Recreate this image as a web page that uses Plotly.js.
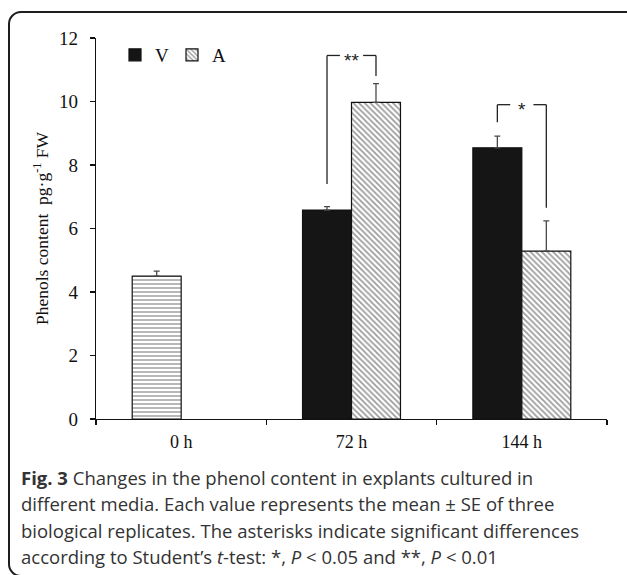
<!DOCTYPE html>
<html>
<head>
<meta charset="utf-8">
<script src="https://cdn.plot.ly/plotly-3.0.1.min.js"></script>
<style>
  html, body { margin: 0; padding: 0; background: #fff; overflow: hidden; }
  #wrap { position: relative; width: 627px; height: 575px; overflow: hidden; }
  #frame { position: absolute; left: 8px; top: 11px; width: 640px; height: 566px;
           border: 2px solid #1e1e1e; border-radius: 13px; box-sizing: border-box; }
  #chart { position: absolute; left: 0; top: 0; width: 627px; height: 575px; }
</style>
</head>
<body>
<div id="wrap">
  <div id="frame"></div>
  <div id="chart"></div>
</div>
<script>
// ---- data ----
const categories = ["0 h", "72 h", "144 h"];
const baseline = [4.5, null, null];        // 0 h value (shown in V slot)
const baselineSE = [0.16, 0, 0];
const seriesV = [null, 6.58, 8.54];
const seriesVSE = [0, 0.11, 0.37];
const seriesA = [null, 9.97, 5.29];
const seriesASE = [0, 0.59, 0.95];
const yTicks = [0, 2, 4, 6, 8, 10, 12];

// significance brackets
const sigCat = [1, 2];
const sigLabel = ["**", "*"];
const sigTop = [11.45, 9.9];
const sigLeftBottom = [7.4, 9.35];
const sigRightBottom = [10.8, 6.65];

const captionLines = [
  "<b>Fig. 3</b> Changes in the phenol content in explants cultured in",
  "different media. Each value represents the mean ± SE of three",
  "biological replicates. The asterisks indicate significant differences",
  "according to Student’s <i>t</i>-test: *, <i>P</i> &lt; 0.05 and **, <i>P</i> &lt; 0.01"
];

// ---- layout helpers ----
const W = 627, H = 575;
const M = {l: 96, r: 20, t: 38, b: 156};
const plotW = W - M.l - M.r, plotH = H - M.t - M.b;
const px2x = p => (p - M.l) / plotW;
const px2y = p => (H - M.b - p) / plotH;

const bargap = 0.425;
const barW = (1 - bargap) / 2;
const offV = -barW / 2, offA = barW / 2;

const serif = "Liberation Serif, Times New Roman, serif";

const errStyle = (arr) => ({
  type: "data", array: arr, arrayminus: arr.map(() => 0), symmetric: false,
  color: "#4a4a4a", thickness: 1.3, width: 3
});

const traces = [
  {
    type: "bar", name: "0 h", x: categories, y: baseline, offsetgroup: "V",
    showlegend: false,
    marker: { color: "white", line: { color: "#111", width: 1.2 },
      pattern: { shape: "-", size: 4, solidity: 0.38, fgcolor: "#444", bgcolor: "white", fillmode: "overlay" } },
    error_y: errStyle(baselineSE)
  },
  {
    type: "bar", name: "V", x: categories, y: seriesV, offsetgroup: "V",
    marker: { color: "#151515", line: { color: "#111", width: 1.2 } },
    error_y: errStyle(seriesVSE)
  },
  {
    type: "bar", name: "A", x: categories, y: seriesA, offsetgroup: "A",
    marker: { color: "white", line: { color: "#111", width: 1.2 },
      pattern: { shape: "\\", size: 4, solidity: 0.45, fgcolor: "#3a3a3a", bgcolor: "white", fillmode: "overlay" } },
    error_y: errStyle(seriesASE)
  }
];

const shapes = [];
const annotations = [];
const gapHalf = 0.068;
sigCat.forEach((c, i) => {
  const xl = c + offV, xr = c + offA, top = sigTop[i];
  const ln = {color: "#222", width: 1.3};
  shapes.push({type: "line", xref: "x", yref: "y", x0: xl, x1: xl, y0: sigLeftBottom[i], y1: top, line: ln});
  shapes.push({type: "line", xref: "x", yref: "y", x0: xr, x1: xr, y0: sigRightBottom[i], y1: top, line: ln});
  shapes.push({type: "line", xref: "x", yref: "y", x0: xl, x1: c - gapHalf, y0: top, y1: top, line: ln});
  shapes.push({type: "line", xref: "x", yref: "y", x0: c + gapHalf, x1: xr, y0: top, y1: top, line: ln});
  annotations.push({xref: "x", yref: "y", x: c, y: top, text: sigLabel[i], showarrow: false,
    yanchor: "middle", yshift: -5, font: {family: "Liberation Sans, Arial, sans-serif", size: 19, color: "#222"}});
});

const capY = [477, 503, 530, 556];
captionLines.forEach((t, i) => {
  annotations.push({xref: "paper", yref: "paper", x: px2x(19), y: px2y(capY[i]), xanchor: "left",
    yanchor: "middle", align: "left", showarrow: false, text: t,
    font: {family: "Open Sans, sans-serif", size: 18.5, color: "#333"}});
});

const layout = {
  width: W, height: H,
  margin: M,
  paper_bgcolor: "rgba(0,0,0,0)", plot_bgcolor: "rgba(0,0,0,0)",
  barmode: "group", bargap: bargap, bargroupgap: 0,
  font: {family: serif, size: 18, color: "#111"},
  showlegend: true,
  legend: { orientation: "h", x: px2x(115), y: px2y(36), xanchor: "left", yanchor: "top",
    bgcolor: "rgba(0,0,0,0)", font: {family: serif, size: 19, color: "#111"},
    entrywidth: 12, entrywidthmode: "pixels", itemwidth: 30, traceorder: "normal" },
  xaxis: {
    type: "category", categoryarray: categories, showline: true, linecolor: "#111", linewidth: 1.3,
    ticks: "outside", tickson: "boundaries", ticklen: 5, tickcolor: "#111", tickwidth: 1.3,
    showgrid: false, zeroline: false, ticklabelstandoff: 6,
    tickfont: {family: serif, size: 18, color: "#111"}, fixedrange: true
  },
  yaxis: {
    range: [0, 12], tickvals: yTicks, ticktext: yTicks.map(String), showline: true, linecolor: "#111", linewidth: 1.3,
    ticks: "outside", ticklen: 5, tickcolor: "#111", tickwidth: 1.3, showgrid: false, zeroline: false,
    ticklabelstandoff: 8, tickfont: {family: serif, size: 19, color: "#111"},
    title: {text: "Phenols content  pg·g<sup>-1</sup> FW", standoff: 5, font: {family: serif, size: 17.5, color: "#111"}},
    automargin: false, fixedrange: true
  },
  shapes: shapes,
  annotations: annotations
};

Plotly.newPlot("chart", traces, layout, {displayModeBar: false, staticPlot: true});
</script>
</body>
</html>
